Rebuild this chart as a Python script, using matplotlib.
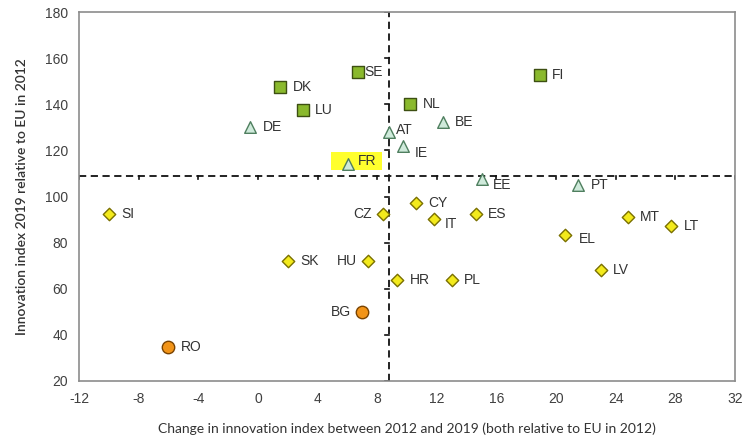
import matplotlib
matplotlib.use("Agg")
import matplotlib.pyplot as plt
from matplotlib.patches import Rectangle

plt.rcParams["axes.unicode_minus"] = False

# Data
leaders = ["SE", "FI", "DK", "NL", "LU"]
leaders_x = [6.7, 18.9, 1.5, 10.2, 3.0]
leaders_y = [153.9, 152.6, 147.4, 140.0, 137.4]

strong = ["BE", "DE", "AT", "IE", "FR", "EE", "PT"]
strong_x = [12.4, -0.5, 8.8, 9.75, 6.05, 15.0, 21.5]
strong_y = [132.2, 130.0, 127.8, 121.7, 114.3, 107.8, 105.2]

moderate = ["SI", "CZ", "CY", "IT", "ES", "MT", "LT", "EL", "SK", "HU", "HR", "PL", "LV"]
moderate_x = [-10.0, 8.4, 10.6, 11.8, 14.6, 24.8, 27.7, 20.6, 2.0, 7.4, 9.35, 13.0, 23.0]
moderate_y = [92.6, 92.2, 97.0, 90.4, 92.6, 91.3, 87.0, 83.5, 72.2, 72.2, 63.9, 63.9, 68.3]

modest = ["BG", "RO"]
modest_x = [7.0, -6.0]
modest_y = [50.0, 34.8]

x_cross = 8.8
y_cross = 109.0
xticks = list(range(-12, 33, 4))
yticks = list(range(20, 181, 20))

W, H = 742, 438
fig = plt.figure(figsize=(W / 100, H / 100), dpi=100)
ax = fig.add_axes([79 / W, 1 - 381 / H, (735 - 79) / W, (381 - 12) / H])
ax.set_xlim(-12, 32)
ax.set_ylim(20, 180)
for s in ax.spines.values():
    s.set_color("#8c8c8c")
    s.set_linewidth(1.2)
ax.set_xticks(xticks)
ax.set_yticks(yticks)
ax.tick_params(length=0, labelsize=10, colors="#404040", pad=8)
for lab in ax.get_xticklabels() + ax.get_yticklabels():
    lab.set_family("Liberation Sans")

# crossing dashed lines
ax.axhline(y_cross, color="#111111", ls=(0, (4, 2.5)), lw=1.3, zorder=1)
ax.axvline(x_cross, color="#111111", ls=(0, (4, 2.5)), lw=1.3, zorder=1)
for xt in xticks:
    ax.plot([xt, xt], [y_cross, y_cross - 1.6], color="#111111", lw=1.2, zorder=1)
for yt in yticks:
    ax.plot([x_cross, x_cross - 0.25], [yt, yt], color="#111111", lw=1.2, zorder=1)

# FR highlight
ax.add_patch(Rectangle((4.9, 111.3), 3.45, 7.8, fc="#ffff2e", ec="none", zorder=0.5))

ax.scatter(leaders_x, leaders_y, marker="s", s=75, c="#8ab92d", edgecolors="#3d4f12", linewidths=1.0, zorder=3)
ax.scatter(strong_x, strong_y, marker="^", s=70, c="#cfeadb", edgecolors="#4f7f5f", linewidths=1.0, zorder=3)
ax.scatter(moderate_x, moderate_y, marker="D", s=40, c="#f3ea1c", edgecolors="#7a7000", linewidths=1.0, zorder=3)
ax.scatter(modest_x, modest_y, marker="o", s=80, c="#f29418", edgecolors="#7a4300", linewidths=1.0, zorder=3)

left_labels = {"CZ", "HU", "BG"}
special = {"SE": (5, 0), "EE": (8, -5), "IE": (8, -5), "IT": (8, -4), "AT": (5, 2), "EL": (10, -3), "FR": (7, 2)}
txtkw = dict(fontsize=10, family="Liberation Sans", color="#333333", va="center", zorder=4)
for names, xs, ys in [(leaders, leaders_x, leaders_y), (strong, strong_x, strong_y),
                      (moderate, moderate_x, moderate_y), (modest, modest_x, modest_y)]:
    for n, x, y in zip(names, xs, ys):
        if n in left_labels:
            ax.annotate(n, (x, y), xytext=(-8, 0), textcoords="offset points", ha="right", **txtkw)
        else:
            off = special.get(n, (9, 0))
            ax.annotate(n, (x, y), xytext=off, textcoords="offset points", ha="left", **txtkw)

ax.set_xlabel("Change in innovation index between 2012 and 2019 (both relative to EU in 2012)",
              fontsize=10, family="Lato", color="#333333", labelpad=12)
ax.set_ylabel("Innovation index 2019 relative to EU in 2012",
              fontsize=10, family="Lato", color="#333333", labelpad=12, fontweight="semibold")

fig.savefig("out.png", dpi=100)
